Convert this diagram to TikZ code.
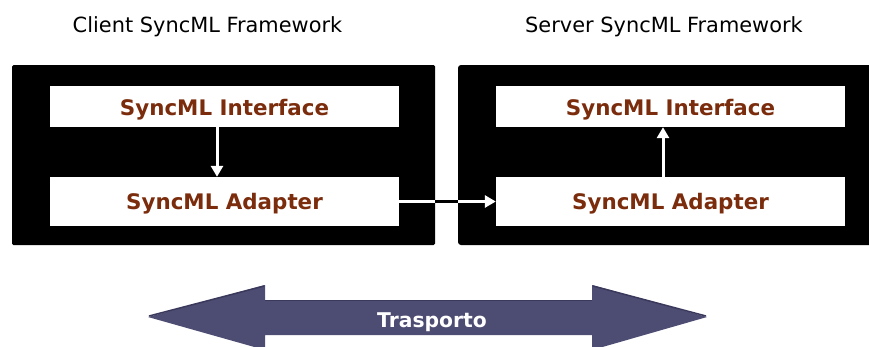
\documentclass[tikz,border=0pt]{standalone}
\usepackage{fontspec}
\setmainfont{DejaVu Sans}
\usetikzlibrary{arrows.meta}
\definecolor{labelbrown}{RGB}{122,44,12}
\definecolor{busblue}{RGB}{77,76,114}
\definecolor{busedge}{RGB}{58,57,92}
\tikzset{
  frame/.style={fill=black, draw=none, inner sep=0pt, minimum height=180pt},
  layerbox/.style={fill=white, draw=none, inner xsep=0pt, inner ysep=0pt,
    minimum width=349pt, text=labelbrown,
    font=\bfseries\fontsize{21.4}{24}\selectfont},
  ifacebox/.style={layerbox, text height=29pt, text depth=12pt},
  adaptbox/.style={layerbox, text height=32pt, text depth=17pt},
  title/.style={anchor=base, font=\fontsize{20.9}{24}\selectfont, inner sep=0pt},
  flow/.style={draw=white, line width=3pt, -{Triangle[length=11pt,width=12pt]}},
  buslabel/.style={anchor=base, text=white, inner sep=0pt,
    font=\bfseries\fontsize{20.3}{24}\selectfont}
}
\begin{document}
\begin{tikzpicture}[x=1pt, y=-1pt]
  \useasboundingbox (0,0) rectangle (869,346);
  \clip (0,0) rectangle (869,346);

  % titles
  \node[title] (clienttitle) at (207.5,32) {Client SyncML Framework};
  \node[title] (servertitle) at (664,32) {Server SyncML Framework};

  % framework frames (the server frame runs off the right edge)
  \node[frame, minimum width=423pt, rounded corners=1.5pt] (clientframe) at (223.5,155) {};
  \node[frame, minimum width=424pt, rounded corners=3pt] (serverframe) at (670,155) {};

  % layers
  \node[ifacebox] (cif) at (224.5,106.5) {SyncML Interface};
  \node[adaptbox] (cad) at (224.5,201.5) {SyncML Adapter};
  \node[ifacebox] (sif) at (670.5,106.5) {SyncML Interface};
  \node[adaptbox] (sad) at (670.5,201.5) {SyncML Adapter};

  % message flow
  \draw[flow] (cif.south -| 217,0) -- (cad.north -| 217,0);
  \draw[flow] (sad.north -| 663,0) -- (sif.south -| 663,0);
  \draw[flow] (cad.east) -- (sad.west);
  \draw[black, line width=3pt] (clientframe.east |- cad.east) -- (serverframe.west |- sad.west);

  % transport bus
  \fill[busblue] (148,317) -- (265,285) -- (265,300) -- (592,300) -- (592,285)
    -- (707,317) -- (592,350) -- (592,335) -- (265,335) -- (265,350) -- cycle;
  \draw[busedge, line width=1.5pt] (149,316) -- (264,286);
  \draw[busedge, line width=1.5pt] (593,286) -- (706,316);
  \draw[busedge, line width=1pt] (265,300.5) -- (592,300.5);
  \node[buslabel] (bus) at (432,327) {Trasporto};
\end{tikzpicture}
\end{document}
